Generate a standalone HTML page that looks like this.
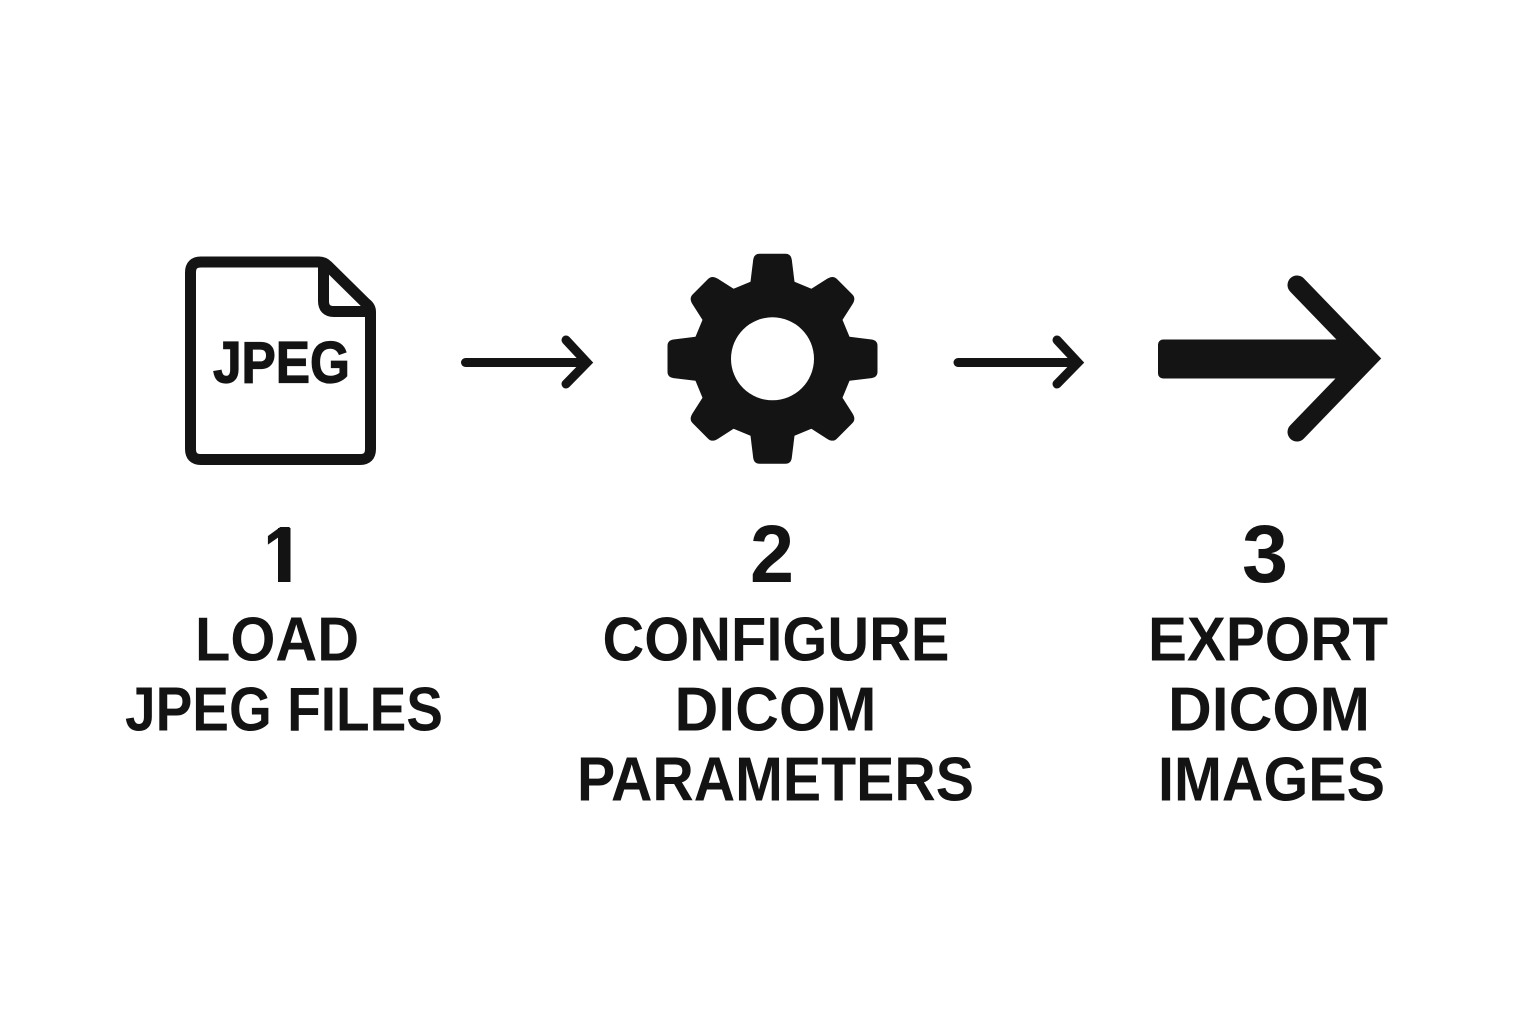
<!DOCTYPE html>
<html lang="en">
<head>
<meta charset="utf-8">
<title>JPEG to DICOM steps</title>
<style>
html,body{margin:0;padding:0;background:#fff;width:1536px;height:1024px;overflow:hidden}
svg{display:block}
text{font-family:"Liberation Sans",Arial,sans-serif;font-weight:700;fill:#131313}
</style>
</head>
<body>
<svg width="1536" height="1024" viewBox="0 0 1536 1024" xmlns="http://www.w3.org/2000/svg">
<rect width="1536" height="1024" fill="#fff"/>

<!-- File icon -->
<g fill="none" stroke="#141414" stroke-width="11" stroke-linejoin="round" stroke-linecap="round">
  <path d="M319,262 H201 Q190.5,262 190.5,272.5 V449 Q190.5,459.5 201,459.5 H360 Q370.5,459.5 370.5,449 V312 Q370.5,307 366,303.5 L328,266 Q324,262 319,262 Z"/>
  <path d="M323.5,264 V301 Q323.5,311.5 334,311.5 H369"/>
</g>
<text x="213" y="382.5" font-size="58" textLength="137" lengthAdjust="spacingAndGlyphs" stroke="#141414" stroke-width="1.2">JPEG</text>

<!-- Arrow 1 -->
<g fill="none" stroke="#141414" stroke-width="9" stroke-linecap="round" stroke-linejoin="miter">
  <path d="M465.5,362.5 H584"/>
  <path d="M566,340 L587,362.5 L566,384"/>
</g>

<!-- Gear -->
<g transform="translate(772.5,358.8)" fill="#141414">
  <polygon points="22,-77 38.9,-70 70,-38.9 77,-22 77,22 70,38.9 38.9,70 22,77 -22,77 -38.9,70 -70,38.9 -77,22 -77,-22 -70,-38.9 -38.9,-70 -22,-77"/>
  <path d="M-22,-70 V-77 L-19.3,-99 Q-18.5,-105 -13,-105 H13 Q18.5,-105 19.3,-99 L22,-77 V-70 Z"/>
  <path transform="rotate(45)" d="M-22,-70 V-77 L-18,-95 Q-16.5,-102 -11,-102 H11 Q16.5,-102 18,-95 L22,-77 V-70 Z"/>
  <path transform="rotate(90)" d="M-22,-70 V-77 L-19.3,-99 Q-18.5,-105 -13,-105 H13 Q18.5,-105 19.3,-99 L22,-77 V-70 Z"/>
  <path transform="rotate(135)" d="M-22,-70 V-77 L-18,-95 Q-16.5,-102 -11,-102 H11 Q16.5,-102 18,-95 L22,-77 V-70 Z"/>
  <path transform="rotate(180)" d="M-22,-70 V-77 L-19.3,-99 Q-18.5,-105 -13,-105 H13 Q18.5,-105 19.3,-99 L22,-77 V-70 Z"/>
  <path transform="rotate(225)" d="M-22,-70 V-77 L-18,-95 Q-16.5,-102 -11,-102 H11 Q16.5,-102 18,-95 L22,-77 V-70 Z"/>
  <path transform="rotate(270)" d="M-22,-70 V-77 L-19.3,-99 Q-18.5,-105 -13,-105 H13 Q18.5,-105 19.3,-99 L22,-77 V-70 Z"/>
  <path transform="rotate(315)" d="M-22,-70 V-77 L-18,-95 Q-16.5,-102 -11,-102 H11 Q16.5,-102 18,-95 L22,-77 V-70 Z"/>
  <circle r="41.5" fill="#fff"/>
</g>

<!-- Arrow 2 -->
<g fill="none" stroke="#141414" stroke-width="9" stroke-linecap="round" stroke-linejoin="miter">
  <path d="M958,362.5 H1075"/>
  <path d="M1057,340 L1078,362.5 L1057,384"/>
</g>

<!-- Big arrow -->
<rect x="1158" y="339.5" width="200" height="39" rx="5" fill="#141414"/>
<path d="M1297,285 L1368,358.5 L1297,432" fill="none" stroke="#141414" stroke-width="19" stroke-linecap="round" stroke-linejoin="miter"/>

<!-- Step 1 -->
<text x="263" y="582" font-size="80" textLength="40" lengthAdjust="spacingAndGlyphs">1</text>
<rect x="255" y="571" width="23" height="14" fill="#fff"/>
<rect x="290.5" y="520" width="20" height="65" fill="#fff"/>
<rect x="278" y="528" width="12.5" height="54" fill="#131313"/>
<text x="195" y="660.5" font-size="62" textLength="164" lengthAdjust="spacingAndGlyphs">LOAD</text>
<text x="125" y="730.5" font-size="62" textLength="318" lengthAdjust="spacingAndGlyphs">JPEG FILES</text>

<!-- Step 2 -->
<text x="750" y="582" font-size="82" textLength="44" lengthAdjust="spacingAndGlyphs">2</text>
<text x="602.5" y="660.5" font-size="62" textLength="347" lengthAdjust="spacingAndGlyphs">CONFIGURE</text>
<text x="674.5" y="730.5" font-size="62" textLength="202" lengthAdjust="spacingAndGlyphs">DICOM</text>
<text x="577" y="800.5" font-size="62" textLength="397" lengthAdjust="spacingAndGlyphs">PARAMETERS</text>

<!-- Step 3 -->
<text x="1242" y="582" font-size="82" textLength="46" lengthAdjust="spacingAndGlyphs">3</text>
<text x="1148" y="660.5" font-size="62" textLength="240" lengthAdjust="spacingAndGlyphs">EXPORT</text>
<text x="1168" y="730.5" font-size="62" textLength="202" lengthAdjust="spacingAndGlyphs">DICOM</text>
<text x="1158" y="800.5" font-size="62" textLength="227" lengthAdjust="spacingAndGlyphs">IMAGES</text>
</svg>
</body>
</html>
